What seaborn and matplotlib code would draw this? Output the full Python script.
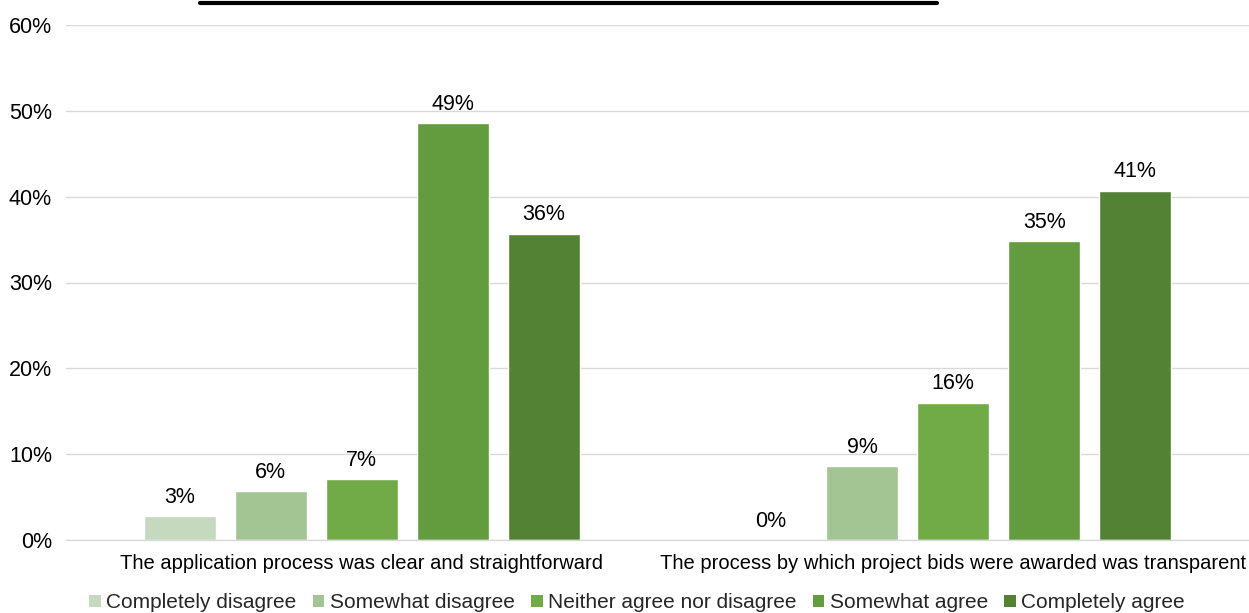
import matplotlib
matplotlib.use("Agg")
import matplotlib.pyplot as plt
import seaborn as sns
import pandas as pd
from matplotlib.lines import Line2D
from matplotlib.patches import Patch

categories = ["The application process was clear and straightforward",
              "The process by which project bids were awarded was transparent"]
responses = ["Completely disagree", "Somewhat disagree", "Neither agree nor disagree",
             "Somewhat agree", "Completely agree"]
values_q1 = [2.8, 5.7, 7.1, 48.6, 35.7]
values_q2 = [0.0, 8.6, 16.0, 34.8, 40.7]
labels_q1 = ["3%", "6%", "7%", "49%", "36%"]
labels_q2 = ["0%", "9%", "16%", "35%", "41%"]
colors = ["#C5D9BE", "#A3C593", "#71AB48", "#639B3F", "#548235"]
yticks = [0, 10, 20, 30, 40, 50, 60]

rows = []
for r, v in zip(responses, values_q1):
    rows.append({"cat": categories[0], "resp": r, "val": v})
for r, v in zip(responses, values_q2):
    rows.append({"cat": categories[1], "resp": r, "val": v})
df = pd.DataFrame(rows)

sns.set_theme(style="white")
plt.rcParams['font.family'] = ['Liberation Sans', 'DejaVu Sans']

fig = plt.figure(figsize=(12.49, 6.13), dpi=100)
ax = fig.add_axes([66/1249, 1 - 540/613, 1183/1249, 515/613])

sns.barplot(data=df, x="cat", y="val", hue="resp", order=categories,
            hue_order=responses, palette=colors, width=0.77, gap=0.21,
            saturation=1, ax=ax, legend=False, errorbar=None)

for cont, labs in zip(ax.containers, zip(labels_q1, labels_q2)):
    ax.bar_label(cont, labels=list(labs), padding=6, fontsize=15.5, color="#000000")

ax.set_ylim(0, 60)
ax.set_xlim(-0.5, 1.5)
ax.set_yticks(yticks)
ax.set_yticklabels([f"{t}%" for t in yticks], fontsize=15.5, color="#000000")
ax.tick_params(axis="x", labelsize=14.5, colors="#000000", length=0, pad=10)
ax.tick_params(axis="y", length=0, pad=10)
ax.set_xlabel("")
ax.set_ylabel("")
ax.grid(axis="y", color="#D9D9D9", linewidth=1)
ax.set_axisbelow(True)
for s in ["top", "right", "left"]:
    ax.spines[s].set_visible(False)
ax.spines["bottom"].set_color("#D9D9D9")
ax.spines["bottom"].set_linewidth(1)

handles = [Patch(facecolor=c, edgecolor="none") for c in colors]
fig.legend(handles, responses, loc="center", bbox_to_anchor=(637/1249, 1 - 603/613),
           ncol=5, frameon=False, fontsize=15, handlelength=0.55, handleheight=0.55,
           handletextpad=0.25, columnspacing=0.8, borderpad=0)

fig.add_artist(Line2D([200/1249, 937/1249], [1 - 3/613, 1 - 3/613],
                      transform=fig.transFigure, color="black", linewidth=3))

fig.savefig("out.png", dpi=100)
